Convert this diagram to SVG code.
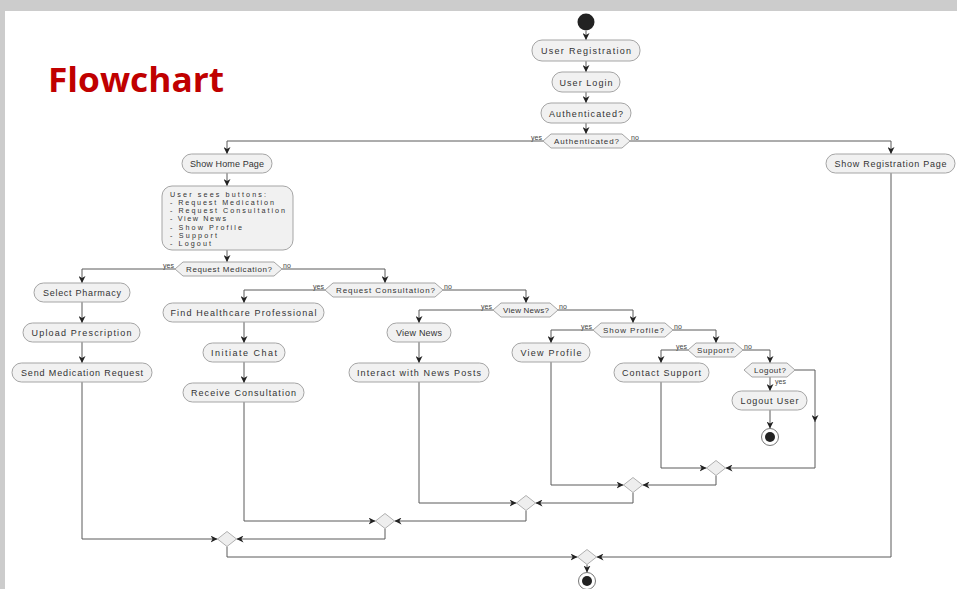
<svg xmlns="http://www.w3.org/2000/svg" width="957" height="589" viewBox="0 0 957 589">
<style>
.box{fill:#f1f1f1;stroke:#a5a5a5;stroke-width:1}
.dec{fill:#f1f1f1;stroke:#a5a5a5;stroke-width:1}
.mrg{fill:#eeeeee;stroke:#b0b0b0;stroke-width:1}
.lbl{font-family:"Liberation Sans",Arial,sans-serif;font-size:9px;fill:#333;text-anchor:middle}
.dl{font-family:"Liberation Sans",Arial,sans-serif;font-size:8px;fill:#333;text-anchor:middle}
.ml{font-family:"Liberation Sans",Arial,sans-serif;font-size:7.2px;fill:#333}
.yn{font-family:"Liberation Sans",Arial,sans-serif;font-size:7px;fill:#444}
.ln{fill:none;stroke:#5a5a5a;stroke-width:1}
.ar{marker-end:url(#arr)}
</style>
<defs>
<marker id="arr" viewBox="0 0 10 10" refX="10" refY="5" markerWidth="7" markerHeight="7" markerUnits="userSpaceOnUse" orient="auto">
<path d="M0,0 L10,5 L0,10 L3,5 Z" fill="#222"/>
</marker>
</defs>
<rect x="0" y="0" width="957" height="589" fill="#cccccc"/>
<rect x="5" y="11" width="952" height="578" fill="#ffffff"/>
<text x="48" y="92" font-family="'Open Sans','Noto Sans',sans-serif" font-weight="bold" font-size="34" fill="#c00000" textLength="176" lengthAdjust="spacingAndGlyphs">Flowchart</text>

<g id="connectors">
<path class="ln ar" d="M586,31 V40"/>
<path class="ln ar" d="M586,61 V72"/>
<path class="ln ar" d="M586,92 V103"/>
<path class="ln ar" d="M586,123 V134"/>
<path class="ln ar" d="M543,141 H227 V154"/>
<path class="ln ar" d="M630,141 H891 V154"/>
<path class="ln ar" d="M227,173 V186"/>
<path class="ln ar" d="M227,250 V262"/>
<path class="ln ar" d="M175,269 H82 V283"/>
<path class="ln ar" d="M282,269 H385 V283"/>
<path class="ln ar" d="M82,302 V323"/>
<path class="ln ar" d="M82,342 V363"/>
<path class="ln ar" d="M325,290 H244 V303"/>
<path class="ln ar" d="M443,290 H526 V303"/>
<path class="ln ar" d="M244,322 V343"/>
<path class="ln ar" d="M244,362 V383"/>
<path class="ln ar" d="M493,310 H419 V323"/>
<path class="ln ar" d="M558,310 H633 V323"/>
<path class="ln ar" d="M419,342 V363"/>
<path class="ln ar" d="M593,330 H551 V343"/>
<path class="ln ar" d="M673,330 H716 V343"/>
<path class="ln ar" d="M688,350 H661 V363"/>
<path class="ln ar" d="M743,350 H770 V363"/>
<path class="ln ar" d="M770,377 V391"/>
<path class="ln ar" d="M770,410 V428.5"/>
<path class="ln ar" d="M795,370 H815 V422"/>
<path class="ln ar" d="M815,420 V468 H725.5"/>
<path class="ln ar" d="M661,382 V468 H706.5"/>
<path class="ln ar" d="M716,475.5 V485 H642.5"/>
<path class="ln ar" d="M551,362 V485 H623.5"/>
<path class="ln ar" d="M633,492.5 V503 H535.5"/>
<path class="ln ar" d="M419,382 V503 H516.5"/>
<path class="ln ar" d="M526,510.5 V521 H394.5"/>
<path class="ln ar" d="M244,402 V521 H375.5"/>
<path class="ln ar" d="M385,528.5 V539 H236.5"/>
<path class="ln ar" d="M82,382 V539 H217.5"/>
<path class="ln ar" d="M227,546.5 V557 H577.5"/>
<path class="ln ar" d="M891,173 V557 H596.5"/>
<path class="ln ar" d="M587,564.5 V572.5"/>
</g>

<g id="start"><circle cx="586" cy="22" r="8.5" fill="#222"/></g>

<g id="userRegistration"><rect class="box" x="532" y="40" width="108" height="21" rx="10"/><text class="lbl" x="586" y="54" textLength="90">User Registration</text></g>
<g id="userLogin"><rect class="box" x="552" y="72" width="68" height="20" rx="10"/><text class="lbl" x="586" y="85.5" textLength="53">User Login</text></g>
<g id="authenticatedBox"><rect class="box" x="541" y="103" width="90" height="20" rx="10"/><text class="lbl" x="586" y="116.5" textLength="74">Authenticated?</text></g>

<g id="authDecision"><polygon class="dec" points="543,141 551,134 622,134 630,141 622,148 551,148"/><text class="dl" x="586.5" y="144" textLength="65">Authenticated?</text>
<text class="yn" x="542" y="139.5" text-anchor="end">yes</text><text class="yn" x="631" y="139.5">no</text></g>

<g id="showHomePage"><rect class="box" x="182" y="154" width="90" height="19" rx="9.5"/><text class="lbl" x="227" y="166.5" textLength="74">Show Home Page</text></g>
<g id="showRegistrationPage"><rect class="box" x="826" y="154" width="129" height="19" rx="9.5"/><text class="lbl" x="890.5" y="166.5" textLength="112">Show Registration Page</text></g>

<g id="userSeesButtons"><rect class="box" x="162" y="186" width="131" height="64" rx="10"/>
<text class="ml" x="170" y="196.5" textLength="96">User sees buttons:</text>
<text class="ml" x="170" y="204.8" textLength="104">- Request Medication</text>
<text class="ml" x="170" y="213.1" textLength="115">- Request Consultation</text>
<text class="ml" x="170" y="221.4" textLength="56">- View News</text>
<text class="ml" x="170" y="229.7" textLength="72">- Show Profile</text>
<text class="ml" x="170" y="238" textLength="47">- Support</text>
<text class="ml" x="170" y="246.3" textLength="41">- Logout</text></g>

<g id="reqMedDecision"><polygon class="dec" points="175,269 183,262 274,262 282,269 274,276 183,276"/><text class="dl" x="229" y="272" textLength="86">Request Medication?</text>
<text class="yn" x="174" y="267.5" text-anchor="end">yes</text><text class="yn" x="283" y="267.5">no</text></g>

<g id="selectPharmacy"><rect class="box" x="34" y="283" width="96" height="19" rx="9.5"/><text class="lbl" x="82" y="295.5" textLength="78">Select Pharmacy</text></g>
<g id="uploadPrescription"><rect class="box" x="23" y="323" width="117" height="19" rx="9.5"/><text class="lbl" x="81.5" y="335.5" textLength="100">Upload Prescription</text></g>
<g id="sendMedicationRequest"><rect class="box" x="12" y="363" width="140" height="19" rx="9.5"/><text class="lbl" x="82" y="375.5" textLength="122">Send Medication Request</text></g>

<g id="reqConsDecision"><polygon class="dec" points="325,290 333,283 435,283 443,290 435,297 333,297"/><text class="dl" x="385.5" y="293" textLength="99">Request Consultation?</text>
<text class="yn" x="324" y="288.5" text-anchor="end">yes</text><text class="yn" x="444" y="288.5">no</text></g>

<g id="findHealthcare"><rect class="box" x="163" y="303" width="161" height="19" rx="9.5"/><text class="lbl" x="243.5" y="315.5" textLength="146">Find Healthcare Professional</text></g>
<g id="initiateChat"><rect class="box" x="203" y="343" width="82" height="19" rx="9.5"/><text class="lbl" x="244" y="355.5" textLength="66">Initiate Chat</text></g>
<g id="receiveConsultation"><rect class="box" x="183" y="383" width="121" height="19" rx="9.5"/><text class="lbl" x="243.5" y="395.5" textLength="105">Receive Consultation</text></g>

<g id="viewNewsDecision"><polygon class="dec" points="493,310 501,303 550,303 558,310 550,317 501,317"/><text class="dl" x="526" y="313" textLength="46">View News?</text>
<text class="yn" x="492" y="308.5" text-anchor="end">yes</text><text class="yn" x="559" y="308.5">no</text></g>

<g id="viewNews"><rect class="box" x="387" y="323" width="64" height="19" rx="9.5"/><text class="lbl" x="419" y="335.5" textLength="46">View News</text></g>
<g id="interactNews"><rect class="box" x="349" y="363" width="140" height="19" rx="9.5"/><text class="lbl" x="419" y="375.5" textLength="124">Interact with News Posts</text></g>

<g id="showProfileDecision"><polygon class="dec" points="593,330 601,323 665,323 673,330 665,337 601,337"/><text class="dl" x="633.5" y="333" textLength="61">Show Profile?</text>
<text class="yn" x="592" y="328.5" text-anchor="end">yes</text><text class="yn" x="674" y="328.5">no</text></g>

<g id="viewProfile"><rect class="box" x="512" y="343" width="78" height="19" rx="9.5"/><text class="lbl" x="551" y="355.5" textLength="61">View Profile</text></g>

<g id="supportDecision"><polygon class="dec" points="688,350 696,343 735,343 743,350 735,357 696,357"/><text class="dl" x="715.5" y="353" textLength="37">Support?</text>
<text class="yn" x="687" y="348.5" text-anchor="end">yes</text><text class="yn" x="744" y="348.5">no</text></g>

<g id="contactSupport"><rect class="box" x="614" y="363" width="95" height="19" rx="9.5"/><text class="lbl" x="661.5" y="375.5" textLength="79">Contact Support</text></g>

<g id="logoutDecision"><polygon class="dec" points="744,370 752,363 787,363 795,370 787,377 752,377"/><text class="dl" x="770" y="373" textLength="32">Logout?</text>
<text class="yn" x="775" y="384">yes</text></g>

<g id="logoutUser"><rect class="box" x="732" y="391" width="75" height="19" rx="9.5"/><text class="lbl" x="769.5" y="403.5" textLength="58">Logout User</text></g>
<g id="endLogout"><circle cx="770" cy="437" r="8.5" fill="#fff" stroke="#777" stroke-width="1"/><circle cx="770" cy="437" r="5" fill="#222"/></g>

<g id="merge1"><polygon class="mrg" points="716,460.5 725.5,468 716,475.5 706.5,468"/></g>
<g id="merge2"><polygon class="mrg" points="633,477.5 642.5,485 633,492.5 623.5,485"/></g>
<g id="merge3"><polygon class="mrg" points="526,495.5 535.5,503 526,510.5 516.5,503"/></g>
<g id="merge4"><polygon class="mrg" points="385,513.5 394.5,521 385,528.5 375.5,521"/></g>
<g id="merge5"><polygon class="mrg" points="227,531.5 236.5,539 227,546.5 217.5,539"/></g>
<g id="merge6"><polygon class="mrg" points="587,549.5 596.5,557 587,564.5 577.5,557"/></g>
<g id="endFinal"><circle cx="587" cy="581" r="8.5" fill="#fff" stroke="#777" stroke-width="1"/><circle cx="587" cy="581" r="5" fill="#222"/></g>
</svg>
